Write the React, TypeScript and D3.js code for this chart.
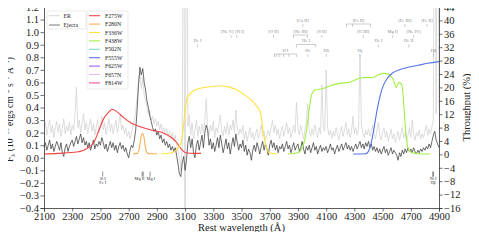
import React, { useEffect, useRef } from 'react';
import * as d3 from 'd3';

const W = 479, H = 240;
const margin = { top: 7, right: 40, bottom: 32, left: 44 };

// spectra sampled every 10 A from 2100 A
const waveStart = 2100;
const waveStep = 10;

const erFlux = [
  0.22, 0.28, 0.18, 0.25, 0.30, 0.20, 0.26, 0.16, 0.24, 0.29,
  0.20, 0.27, 0.17, 0.23, 0.31, 0.19, 0.25, 0.21, 0.28, 0.18,
  0.26, 0.22, 0.34, 0.56, 0.24, 0.30, 0.20, 0.27, 0.35, 0.22,
  0.28, 0.19, 0.25, 0.31, 0.21, 0.27, 0.18, 0.24, 0.30, 0.20,
  0.26, 0.33, 0.22, 0.28, 0.18, 0.25, 0.31, 0.21, 0.27, 0.19,
  0.24, 0.30, 0.20, 0.27, 0.34, 0.22, 0.26, 0.19, 0.24, 0.17,
  0.21, 0.15, 0.20, 0.25, 0.30, 0.36, 0.48, 0.62, 0.68, 0.55,
  0.64, 0.50, 0.45, 0.40, 0.35, 0.38, 0.30, 0.33, 0.27, 0.31,
  0.25, 0.29, 0.22, 0.27, 0.20, 0.24, 0.18, 0.23, 0.17, 0.21,
  0.15, 0.20, 0.13, 0.18, 0.10, 0.05, 0.00, -0.10, 0.10, 3.0,
  -1.5, 3.0, 0.25, 0.34, 0.18, 0.28, 0.15, 0.22, 0.30, 0.17,
  0.25, 0.19, 0.27, 0.20, 0.30, 0.47, 0.24, 0.18, 0.26, 0.21,
  0.29, 0.16, 0.24, 0.20, 0.27, 0.34, 0.22, 0.17, 0.25, 0.19,
  0.28, 0.18, 0.26, 0.22, 0.30, 0.20, 0.38, 0.24, 0.18, 0.23,
  0.19, 0.26, 0.15, 0.21, 0.13, 0.19, 0.24, 0.16, 0.20, 0.14,
  0.19, 0.23, 0.15, 0.20, 0.26, 0.17, 0.21, 0.14, 0.18, 0.22,
  0.17, 0.24, 0.30, 0.20, 0.26, 0.18, 0.23, 0.15, 0.21, 0.25,
  0.17, 0.22, 0.28, 0.19, 0.24, 0.16, 0.21, 0.26, 0.20, 0.44,
  0.24, 0.18, 0.26, 0.20, 0.15, 0.22, 0.28, 0.43, 0.21, 0.17,
  0.23, 0.18, 0.26, 0.20, 0.16, 0.24, 0.19, 0.58, 0.25, 0.21,
  0.70, 0.24, 0.18, 0.22, 0.15, 0.21, 0.17, 0.24, 0.19, 0.14,
  0.20, 0.25, 0.17, 0.22, 0.28, 0.18, 0.23, 0.16, 0.21, 0.33,
  0.19, 0.24, 0.18, 0.23, 0.82, 0.26, 0.20, 0.16, 0.22, 0.18,
  0.23, 0.17, 0.21, 0.26, 0.19, 0.15, 0.22, 0.28, 0.18, 0.14,
  0.20, 0.24, 0.16, 0.21, 0.13, 0.18, 0.23, 0.15, 0.19, 0.12,
  0.17, 0.21, 0.14, 0.19, 0.24, 0.16, 0.20, 0.13, 0.18, 0.24,
  0.16, 0.30, 0.19, 0.14, 0.20, 0.17, 0.22, 0.15, 0.19, 0.16,
  0.21, 0.26, 0.18, 0.23, 0.19, 0.25, 0.30, 3.0, 0.35, 3.0,
  0.40,
];

const ejectaFlux = [
  0.08, 0.12, 0.06, 0.10, 0.14, 0.07, 0.11, 0.05, 0.09, 0.13,
  0.10, 0.06, 0.12, 0.04, 0.01, 0.08, 0.11, 0.05, 0.09, 0.12,
  0.14, 0.09, 0.13, 0.17, 0.11, 0.15, 0.19, 0.12, 0.16, 0.10,
  0.13, 0.08, 0.12, 0.06, 0.10, 0.14, 0.07, 0.11, 0.09, 0.13,
  0.10, 0.16, 0.12, 0.07, 0.11, 0.05, 0.09, 0.13, 0.08, 0.12,
  0.06, 0.10, 0.04, 0.09, 0.12, 0.07, 0.10, 0.05, 0.08, 0.03,
  0.00, 0.06, 0.10, 0.08, 0.14, 0.22, 0.38, 0.58, 0.72, 0.66,
  0.71, 0.60, 0.54, 0.45, 0.40, 0.33, 0.29, 0.24, 0.21, 0.23,
  0.18, 0.21, 0.15, 0.18, 0.12, 0.15, 0.10, 0.13, 0.08, 0.11,
  0.06, 0.09, 0.05, 0.08, 0.02, -0.05, -0.13, -0.15, -0.04, 0.01,
  -0.10, -0.02, 0.12, 0.17, 0.08, 0.15, 0.04, 0.00, 0.10, 0.14,
  0.06, 0.12, 0.18, 0.08, 0.20, 0.26, 0.22, 0.10, 0.15, 0.07,
  0.12, 0.05, 0.10, 0.16, 0.08, 0.18, 0.11, 0.04, 0.09, 0.15,
  0.07, 0.12, 0.03, 0.10, 0.16, 0.09, 0.19, 0.12, 0.06, 0.11,
  0.08, 0.14, 0.05, 0.10, 0.02, 0.07, 0.04, -0.02, 0.06, 0.10,
  0.05, 0.12, 0.08, 0.03, 0.09, 0.13, 0.06, 0.11, 0.07, 0.02,
  0.10, 0.14, 0.08, 0.12, 0.06, 0.10, 0.04, 0.09, 0.07, 0.11,
  0.05, 0.09, 0.13, 0.07, 0.10, 0.04, 0.08, 0.12, 0.06, 0.09,
  0.11, 0.05, 0.08, 0.13, 0.07, 0.03, 0.09, 0.06, 0.10, 0.04,
  0.08, 0.12, 0.06, 0.09, 0.03, 0.07, 0.10, 0.05, 0.08, 0.06,
  0.09, 0.04, 0.07, 0.11, 0.06, 0.08, 0.03, 0.07, 0.10, 0.05,
  0.08, 0.11, 0.06, 0.09, 0.12, 0.07, 0.10, 0.06, 0.09, 0.05,
  0.08, 0.11, 0.07, 0.10, 0.13, 0.08, 0.11, 0.07, 0.12, 0.09,
  0.13, 0.08, 0.11, 0.06, 0.09, 0.05, 0.08, 0.04, 0.07, 0.03,
  0.06, 0.09, 0.04, 0.07, 0.02, 0.05, 0.08, 0.03, 0.06, 0.04,
  0.02, -0.02, 0.04, 0.01, 0.06, 0.03, 0.07, 0.04, 0.08, 0.05,
  0.07, 0.04, 0.08, 0.05, 0.03, 0.06, 0.04, 0.07, 0.05, 0.08,
  0.06, 0.09, 0.07, 0.11, 0.08, 0.13, 0.18, 0.21, 0.14, 0.11,
  0.08,
];

// filter throughput curves: [wavelength A, throughput %]
const f275w = [[2100, 0.1], [2200, 0.3], [2333, 0.7], [2419, 2.2], [2455, 3.7], [2490, 7.3], [2526, 10.9],
  [2561, 12.7], [2582, 13.5], [2618, 12.7], [2667, 10.9], [2717, 9.4], [2788, 8.2], [2858, 7.3], [2951, 6.3],
  [3008, 4.9], [3043, 3.4], [3079, 1.3], [3114, 0.4], [3160, 0.3], [3213, 0.3]];
const f280n = [[2731, 0.2], [2760, 0.3], [2775, 1.6], [2785, 4.5], [2797, 6.3], [2808, 5.3], [2818, 2.3],
  [2828, 0.6], [2845, 0.2], [2901, 0.2]];
const f336w = [[2930, 0.1], [3000, 0.4], [3036, 1.3], [3071, 3.4], [3085, 7], [3100, 13], [3114, 16.6],
  [3140, 18.3], [3180, 19.4], [3256, 20.1], [3355, 20.4], [3420, 20], [3469, 19.2], [3518, 17.9], [3570, 16.2],
  [3610, 14.3], [3635, 12.4], [3653, 7], [3668, 3.5], [3681, 1.4], [3700, 0.4], [3752, 0.1]];
const f438w = [[3830, 0.1], [3900, 0.5], [3930, 2], [3950, 4.6], [3965, 8.4], [3982, 14], [3998, 18],
  [4021, 19.2], [4071, 19.6], [4130, 20.5], [4200, 21.2], [4270, 21.6], [4340, 22.8], [4400, 23],
  [4430, 22.9], [4470, 23.8], [4510, 24.2], [4545, 23.8], [4575, 22.5], [4596, 20], [4617, 21.5],
  [4638, 20.6], [4652, 14], [4666, 6], [4684, 1.5], [4710, 0.5], [4760, 0.2], [4837, 0.1]];
const f555w = [[4291, 0.1], [4380, 0.2], [4400, 0.9], [4420, 3.5], [4440, 8], [4461, 13.2], [4480, 17],
  [4500, 20], [4530, 22.5], [4570, 24.3], [4620, 25.3], [4680, 26], [4750, 26.6], [4820, 27.2], [4900, 27.7]];

const filterNames = ['F275W', 'F280N', 'F336W', 'F438W', 'F502N', 'F555W', 'F625W', 'F657N', 'F814W'];
const filterColors = ['#f04545', '#ffad55', '#ffe23a', '#a2ee44', '#7fdcca', '#5574e6', '#a95cf2', '#f3bdef', '#f0559c'];
const filterCurves = [
  { name: 'F275W', data: f275w },
  { name: 'F280N', data: f280n },
  { name: 'F336W', data: f336w },
  { name: 'F438W', data: f438w },
  { name: 'F555W', data: f555w },
];

const xTicks = d3.range(2100, 4901, 200);
const yTicks = d3.range(-4, 13).map(d => d / 10);
const tTicks = d3.range(-16, 45, 4);

// line identifications (rest wavelengths), row 0 = highest
const topLines = [
  { label: '[Ca II]', waves: [3934], row: 0, align: 'middle' },
  { label: '[Fe II]', waves: [4244, 4287, 4414], row: 0, align: 'middle' },
  { label: '[Fe III]', waves: [4658], row: 0, align: 'middle' },
  { label: '[Fe II]', waves: [4815], row: 0, align: 'middle' },
  { label: '[Ne V]', waves: [3426], row: 1, align: 'end' },
  { label: '[N I]', waves: [3466], row: 1, align: 'start' },
  { label: '[O II]', waves: [3727], row: 1, align: 'middle' },
  { label: '[Ne III]', waves: [3869, 3968], row: 1, align: 'middle' },
  { label: '[S II]', waves: [4069], row: 1, align: 'middle' },
  { label: '[O III]', waves: [4363], row: 1, align: 'middle' },
  { label: 'Mg I]', waves: [4571], row: 1, align: 'middle' },
  { label: '[Ne IV]', waves: [4720], row: 1, align: 'middle' },
  { label: 'He I', waves: [3188], row: 2, align: 'middle' },
  { label: 'He I', waves: [3889, 4026], row: 2, align: 'middle' },
  { label: 'He I', waves: [4471], row: 2, align: 'middle' },
  { label: 'He II', waves: [4686], row: 2, align: 'middle' },
  { label: 'H I', waves: [3734, 3750, 3771, 3798, 3835, 3889], row: 3, align: 'middle' },
  { label: 'Hε', waves: [3970], row: 3, align: 'middle' },
  { label: 'Hδ', waves: [4101], row: 3, align: 'middle' },
  { label: 'Hγ', waves: [4340], row: 3, align: 'middle' },
  { label: 'Hβ', waves: [4861], row: 3, align: 'middle' },
];
const bottomLines = [
  { label: ['Si I', 'Fe I'], waves: [2516], align: 'middle' },
  { label: ['Mg II'], waves: [2796, 2803], align: 'end' },
  { label: ['Mg I'], waves: [2852], align: 'start' },
  { label: ['Ni I', 'Hβ'], waves: [4856, 4861], align: 'middle' },
];

const FONT = '"Liberation Serif", "Times New Roman", serif';

function Chart() {
  const ref = useRef<SVGSVGElement>(null);

  useEffect(() => {
    const svg = d3.select(ref.current);
    svg.selectAll('*').remove();

    const iw = W - margin.left - margin.right;
    const ih = H - margin.top - margin.bottom;
    const x = d3.scaleLinear().domain([2100, 4900]).range([0, iw]);
    const y = d3.scaleLinear().domain([-0.4, 1.2]).range([ih, 0]);
    const yt = d3.scaleLinear().domain([-16, 44]).range([ih, 0]);

    const g = svg.append('g').attr('transform', `translate(${margin.left},${margin.top})`);

    svg.append('defs').append('clipPath').attr('id', 'plotclip')
      .append('rect').attr('width', iw).attr('height', ih);

    const plot = g.append('g').attr('clip-path', 'url(#plotclip)');

    const specLine = d3.line<number>()
      .x((d, i) => x(waveStart + i * waveStep))
      .y(d => y(d));

    plot.append('path').datum(erFlux)
      .attr('d', specLine)
      .attr('fill', 'none').attr('stroke', '#d2d2d2').attr('stroke-width', 0.75);
    plot.append('path').datum(ejectaFlux)
      .attr('d', specLine)
      .attr('fill', 'none').attr('stroke', '#3c3c3c').attr('stroke-width', 0.75);

    const tLine = d3.line<number[]>()
      .x(d => x(d[0]))
      .y(d => yt(d[1]))
      .curve(d3.curveMonotoneX);

    filterCurves.forEach(f => {
      plot.append('path').datum(f.data)
        .attr('d', tLine)
        .attr('fill', 'none')
        .attr('stroke', filterColors[filterNames.indexOf(f.name)])
        .attr('stroke-width', 1.1);
    });

    // line identification labels
    const rowY = [13, 24, 33.5, 43];
    const ann = g.append('g').attr('font-family', FONT).attr('font-size', 4.5).attr('fill', '#888');
    topLines.forEach(l => {
      const cy = rowY[l.row];
      const xs = l.waves.map(w => x(w));
      const x0 = d3.min(xs) as number, x1 = d3.max(xs) as number;
      const cx = l.align === 'end' ? xs[0] + 2.5 : l.align === 'start' ? xs[0] - 1.5 : (x0 + x1) / 2;
      ann.append('text').attr('x', cx).attr('y', cy + 1.6)
        .attr('text-anchor', l.align).text(l.label);
      if (xs.length > 1) {
        ann.append('line').attr('x1', x0).attr('x2', x1).attr('y1', cy + 4).attr('y2', cy + 4)
          .attr('stroke', '#999').attr('stroke-width', 0.5);
        xs.forEach(xx => ann.append('line').attr('x1', xx).attr('x2', xx)
          .attr('y1', cy + 4).attr('y2', cy + 7).attr('stroke', '#999').attr('stroke-width', 0.5));
      } else {
        ann.append('line').attr('x1', xs[0]).attr('x2', xs[0]).attr('y1', cy + 4).attr('y2', cy + 7)
          .attr('stroke', '#999').attr('stroke-width', 0.5);
      }
    });
    const ann2 = g.append('g').attr('font-family', FONT).attr('font-size', 4.3).attr('fill', '#333');
    bottomLines.forEach(l => {
      const xs = l.waves.map(w => x(w));
      xs.forEach(xx => ann2.append('line').attr('x1', xx).attr('x2', xx)
        .attr('y1', y(-0.11)).attr('y2', y(-0.15)).attr('stroke', '#444').attr('stroke-width', 0.6));
      const m = d3.mean(xs) as number;
      const cx = l.align === 'end' ? m + 1.8 : l.align === 'start' ? m - 3.5 : m;
      l.label.forEach((t, i) => ann2.append('text').attr('x', cx).attr('y', y(-0.175) + i * 4.2)
        .attr('text-anchor', l.align).text(t));
    });

    // axes
    const xAxis = g.append('g').attr('transform', `translate(0,${ih})`)
      .call(d3.axisBottom(x).tickValues(xTicks).tickFormat(d3.format('d')).tickSize(3.5).tickPadding(1.5));
    const yAxis = g.append('g')
      .call(d3.axisLeft(y).tickValues(yTicks).tickFormat(d3.format('.1f')).tickSize(3.5).tickPadding(1.5));
    const tAxis = g.append('g').attr('transform', `translate(${iw},0)`)
      .call(d3.axisRight(yt).tickValues(tTicks).tickSize(3.5).tickPadding(1.5));
    g.append('line').attr('x1', 0).attr('x2', iw).attr('y1', 0).attr('y2', 0)
      .attr('stroke', '#333').attr('stroke-width', 0.8);

    [xAxis, yAxis, tAxis].forEach(a => {
      a.selectAll('path').attr('stroke', '#333').attr('stroke-width', 0.8);
      a.selectAll('line').attr('stroke', '#333').attr('stroke-width', 0.7);
      a.selectAll('text').attr('font-family', FONT).attr('font-size', 10.5).attr('fill', '#222');
    });

    // axis titles
    svg.append('text')
      .attr('x', margin.left + iw / 2).attr('y', 231)
      .attr('text-anchor', 'middle').attr('font-family', FONT).attr('font-size', 10.5).attr('fill', '#222')
      .text('Rest wavelength (Å)');

    const yl = svg.append('text')
      .attr('transform', `translate(12.5,${margin.top + ih / 2 + 2}) rotate(-90)`)
      .attr('text-anchor', 'middle').attr('font-family', FONT).attr('font-size', 9.5).attr('fill', '#222');
    yl.append('tspan').text('F');
    yl.append('tspan').attr('font-size', 6.5).attr('dy', 2).text('λ');
    yl.append('tspan').attr('dy', -2).text(' (10');
    yl.append('tspan').attr('font-size', 6.5).attr('dy', -3.5).text('−15');
    yl.append('tspan').attr('dy', 3.5).text(' ergs cm');
    yl.append('tspan').attr('font-size', 6.5).attr('dy', -3.5).text('−2');
    yl.append('tspan').attr('dy', 3.5).text(' s');
    yl.append('tspan').attr('font-size', 6.5).attr('dy', -3.5).text('−1');
    yl.append('tspan').attr('dy', 3.5).text(' Å');
    yl.append('tspan').attr('font-size', 6.5).attr('dy', -3.5).text('−1');
    yl.append('tspan').attr('dy', 3.5).text(')');

    svg.append('text')
      .attr('transform', `translate(470,${margin.top + ih / 2}) rotate(-90)`)
      .attr('text-anchor', 'middle').attr('font-family', FONT).attr('font-size', 10.5).attr('fill', '#222')
      .text('Throughput (%)');

    // legends
    const lg = svg.append('g').attr('font-family', FONT).attr('font-size', 5.8).attr('fill', '#222');
    lg.append('rect').attr('x', 47).attr('y', 11).attr('width', 39).attr('height', 18).attr('rx', 1.5)
      .attr('fill', 'white').attr('fill-opacity', 0.85).attr('stroke', '#ddd').attr('stroke-width', 0.6);
    [{ name: 'ER', color: '#d4d4d4', w: 0.9 }, { name: 'Ejecta', color: '#9a9a9a', w: 1.3 }].forEach((d, i) => {
      const ly = 15.7 + i * 9.3;
      lg.append('line').attr('x1', 49).attr('x2', 60).attr('y1', ly).attr('y2', ly)
        .attr('stroke', d.color).attr('stroke-width', d.w);
      lg.append('text').attr('x', 63.5).attr('y', ly + 2).text(d.name);
    });
    lg.append('rect').attr('x', 87).attr('y', 11).attr('width', 41).attr('height', 78).attr('rx', 1.5)
      .attr('fill', 'white').attr('fill-opacity', 0.85).attr('stroke', '#ddd').attr('stroke-width', 0.6);
    filterNames.forEach((n, i) => {
      const ly = 15.7 + i * 8.4;
      lg.append('line').attr('x1', 89).attr('x2', 100).attr('y1', ly).attr('y2', ly)
        .attr('stroke', filterColors[i]).attr('stroke-width', 1.1);
      lg.append('text').attr('x', 105).attr('y', ly + 2).text(n);
    });
  }, []);

  return <svg ref={ref} width={W} height={H} style={{ display: 'block' }} />;
}

export default function App() {
  return (
    <div style={{ width: W, height: H, margin: -8 }}>
      <Chart />
    </div>
  );
}
